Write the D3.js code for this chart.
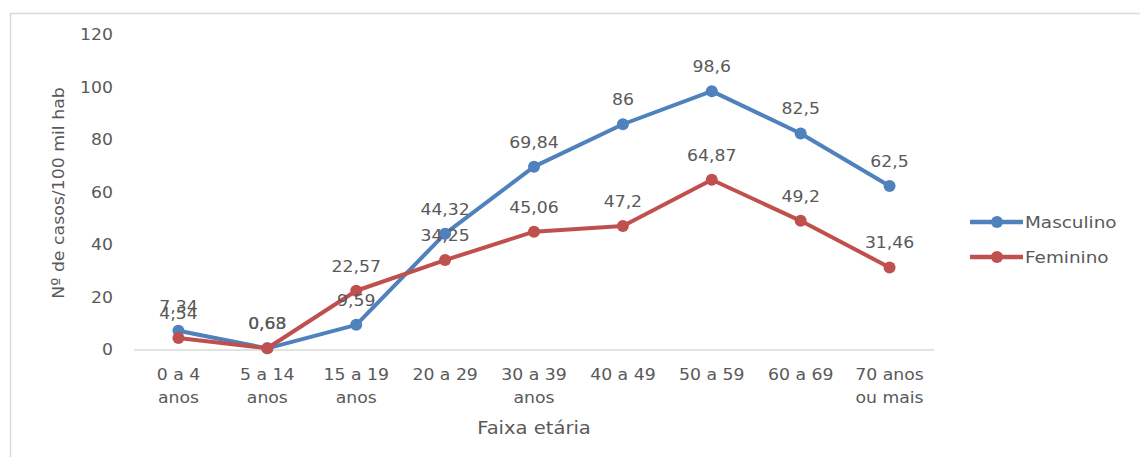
<!DOCTYPE html>
<html><head><meta charset="utf-8">
<script src="https://cdn.jsdelivr.net/npm/d3@7"></script>
<style>body{margin:0;background:#fff}svg{display:block}text{font-family:"DejaVu Sans",sans-serif;fill:#595959}</style>
</head><body><svg id="c" width="1140" height="457"></svg>
<script>
const categories = [["0 a 4","anos"],["5 a 14","anos"],["15 a 19","anos"],["20 a 29"],["30 a 39","anos"],["40 a 49"],["50 a 59"],["60 a 69"],["70 anos","ou mais"]];
const masculino = [7.34, 0.63, 9.59, 44.32, 69.84, 86, 98.6, 82.5, 62.5];
const feminino = [4.54, 0.68, 22.57, 34.25, 45.06, 47.2, 64.87, 49.2, 31.46];
const yTicks = [0,20,40,60,80,100,120];
const seriesNames = ["Masculino","Feminino"];
const colors = ["#4F81BD","#C0504D"];
const SX = 1.15;

const svg = d3.select("#c");
svg.append("rect").attr("x",10.5).attr("y",13.5).attr("width",1140).attr("height",460)
  .attr("fill","none").attr("stroke","#d9d9d9").attr("stroke-width",1.5);

const x = d3.scaleBand().domain(d3.range(categories.length)).range([134,934]);
const y = d3.scaleLinear().domain([0,120]).range([350,35]);
const fmt = v => String(v).replace(".", ",");
const cx = i => x(i) + x.bandwidth()/2;

// y tick labels
svg.append("g").selectAll("text").data(yTicks).join("text")
  .attr("transform",d=>`translate(113,${y(d)}) scale(${SX},1)`).attr("dy","0.35em").attr("text-anchor","end")
  .attr("font-size",15).text(d=>d);

// x axis line
svg.append("line").attr("x1",134).attr("x2",934).attr("y1",y(0)).attr("y2",y(0))
  .attr("stroke","#d9d9d9").attr("stroke-width",1.5);

// x labels
const xl = svg.append("g").selectAll("text").data(categories).join("text")
  .attr("text-anchor","middle").attr("font-size",15)
  .attr("transform",(d,i)=>`translate(${cx(i)},380) scale(${SX},1)`);
xl.selectAll("tspan").data(d=>d).join("tspan").attr("x",0).attr("y",(d,i)=>i*23).text(d=>d);

// titles
svg.append("text").attr("transform",`translate(534,434) scale(${SX},1)`).attr("text-anchor","middle").attr("font-size",17).text("Faixa etária");
svg.append("text").attr("transform","translate(64,193) rotate(-90) scale(1.05,1)").attr("text-anchor","middle")
  .attr("font-size",16.5).text("Nº de casos/100 mil hab");

const series = [masculino, feminino];
const line = d3.line().x((d,i)=>cx(i)).y(d=>y(d));
series.forEach((s,k)=>{
  svg.append("path").datum(s).attr("d",line).attr("fill","none").attr("stroke",colors[k])
    .attr("stroke-width",4).attr("stroke-linejoin","round").attr("stroke-linecap","round");
  svg.append("g").selectAll("circle").data(s).join("circle")
    .attr("cx",(d,i)=>cx(i)).attr("cy",d=>y(d)).attr("r",6).attr("fill",colors[k]);
});
series.forEach((s,k)=>{
  svg.append("g").selectAll("text").data(s).join("text")
    .attr("transform",(d,i)=>`translate(${cx(i)},${y(d)-19}) scale(${SX},1)`).attr("text-anchor","middle")
    .attr("font-size",15).attr("fill","#404040").text(d=>fmt(d));
});

// legend
const lg = svg.append("g").selectAll("g").data(seriesNames).join("g")
  .attr("transform",(d,i)=>`translate(970,${222+i*35})`);
lg.append("line").attr("x1",0).attr("x2",53).attr("stroke",(d,i)=>colors[i]).attr("stroke-width",4.5);
lg.append("circle").attr("cx",27).attr("r",6).attr("fill",(d,i)=>colors[i]);
lg.append("text").attr("transform",`translate(55,0) scale(${SX},1)`).attr("dy","0.35em").attr("font-size",16).text(d=>d);
</script></body></html>
